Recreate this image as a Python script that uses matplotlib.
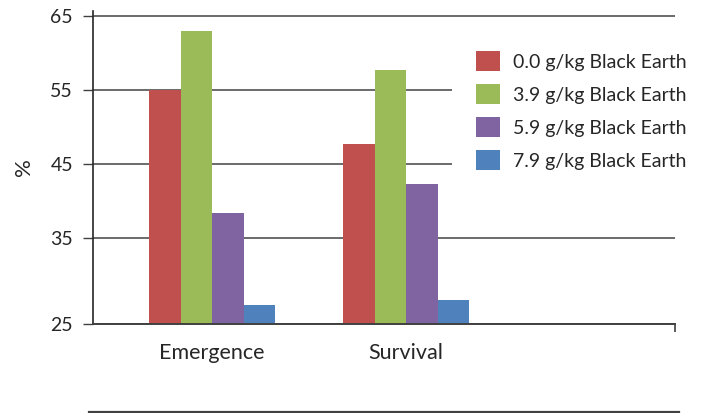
import matplotlib
matplotlib.use('Agg')
import matplotlib.pyplot as plt
from matplotlib.lines import Line2D
import numpy as np

plt.rcParams['font.family'] = ['Lato', 'DejaVu Sans']

categories = ['Emergence', 'Survival']
series_names = ['0.0 g/kg Black Earth', '3.9 g/kg Black Earth',
                '5.9 g/kg Black Earth', '7.9 g/kg Black Earth']
vals_00 = [55.0, 47.7]
vals_39 = [62.9, 57.7]
vals_59 = [38.3, 42.3]
vals_79 = [25.9, 26.6]
colors = ['#C0504D', '#9BBB59', '#8064A2', '#4F81BD']

# axis bottom sits a bit below 25 in the original picture, but is labelled 25
y_bottom = 23.34
ytick_pos = [y_bottom, 35, 45, 55, 65]
ytick_lab = ['25', '35', '45', '55', '65']

fig = plt.figure(figsize=(7.01, 4.13), dpi=100)
ax = fig.add_axes([0.132, 0.2155, 0.831, 0.7585])

x = np.arange(len(categories))
w = 0.1624
all_vals = [vals_00, vals_39, vals_59, vals_79]
for i, v in enumerate(all_vals):
    ax.bar(x + (i - 1.5) * w, np.array(v) - y_bottom, w, bottom=y_bottom,
           color=colors[i], label=series_names[i], zorder=2)

ax.set_xlim(-0.616, 2.387)
ax.set_ylim(y_bottom, 65.68)

ax.set_yticks(ytick_pos)
ax.set_yticklabels(ytick_lab)
ax.yaxis.grid(True, color='#5f5f5f', linewidth=1.3, zorder=0)
ax.set_axisbelow(True)
ax.tick_params(axis='y', length=7, width=1, color='#404040', pad=7,
               labelsize=14, labelcolor='#262626')

ax.set_xticks(x)
ax.set_xticklabels(categories)
ax.tick_params(axis='x', length=0, pad=14, labelsize=15.5, labelcolor='#262626')
ax.set_xticks([2.387], minor=True)
ax.tick_params(axis='x', which='minor', length=6, width=1.2, color='#404040')

for s in ['top', 'right']:
    ax.spines[s].set_visible(False)
ax.spines['left'].set_color('#262626')
ax.spines['left'].set_linewidth(1.2)
ax.spines['bottom'].set_color('#404040')
ax.spines['bottom'].set_linewidth(1.4)

ax.set_ylabel('%', fontsize=16, color='#262626', labelpad=12)

# legend box is white and hides the gridlines behind it
leg = ax.legend(loc='upper left', bbox_to_anchor=(452 / 701, 1 - 27 / 413),
                bbox_transform=fig.transFigure, frameon=True, fontsize=14,
                handlelength=1.24, handleheight=1.19, handletextpad=0.67,
                labelspacing=0.68, borderpad=1.24, borderaxespad=0,
                fancybox=False, facecolor='white', edgecolor='none',
                framealpha=1)
leg.set_zorder(5)
for t in leg.get_texts():
    t.set_color('#262626')

fig.add_artist(Line2D([89 / 701, 679 / 701], [1.2 / 413, 1.2 / 413],
                      color='#404040', linewidth=1.6))

fig.savefig('out.png', dpi=100)
